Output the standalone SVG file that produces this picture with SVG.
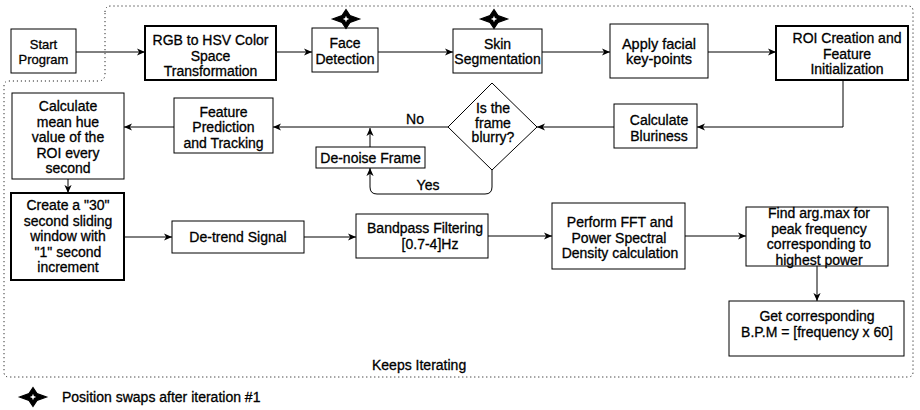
<svg xmlns="http://www.w3.org/2000/svg" width="920" height="410" viewBox="0 0 920 410">
<style>
text{font-family:"Liberation Sans",Arial,sans-serif;font-size:14px;fill:#000;stroke:#000;stroke-width:0.3;text-anchor:middle}
.s13{font-size:13px}
.s145{font-size:14.5px}
.l{text-anchor:start}
.box{fill:#fff;stroke:#000;stroke-width:1}
.thick{stroke-width:2}
.star{fill:#000;stroke:#000;stroke-width:1.2;stroke-linejoin:miter}
.starin{fill:#fff}
.edge{fill:none;stroke:#000;stroke-width:1}
.dot{fill:none;stroke:#000;stroke-width:1;stroke-dasharray:1 3}
</style>
<defs>
<marker id="arr" viewBox="0 0 10 10" refX="9" refY="5" markerWidth="9" markerHeight="9" markerUnits="userSpaceOnUse" orient="auto">
<path d="M0,1 L9,5 L0,9 L2.5,5 Z" fill="#000"/>
</marker>
<g id="starShape">
<path class="star" d="M-13.5,0 L-4,-3.5 L0,-9.5 L4,-3.5 L13.5,0 L4,3.5 L0,9.5 L-4,3.5 Z"/>
<path class="starin" d="M-3.2,0 L-0.9,-0.9 L0,-3.2 L0.9,-0.9 L3.2,0 L0.9,0.9 L0,3.2 L-0.9,0.9 Z"/>
</g>
</defs>
<rect width="920" height="410" fill="#fff"/>

<g id="loop-border">
<path class="dot" d="M105,12 Q105,6 111,6 L908,6 Q913,6 913,11 L913,372 Q913,377 908,377 L9,377 Q4,377 4,372 L4,86 Q4,81 9,81 L98,81 Q105,81 105,74 Z"/>
<text class="l" x="372" y="370">Keeps Iterating</text>
</g>

<g id="connectors">
<path class="edge" marker-end="url(#arr)" d="M76,52 L145,52"/>
<path class="edge" marker-end="url(#arr)" d="M276,52 L312,52"/>
<path class="edge" marker-end="url(#arr)" d="M378,52 L453,52"/>
<path class="edge" marker-end="url(#arr)" d="M542,52 L610,52"/>
<path class="edge" marker-end="url(#arr)" d="M708,52 L776,52"/>
<path class="edge" marker-end="url(#arr)" d="M843,80 L843,127 L697,127"/>
<path class="edge" marker-end="url(#arr)" d="M614,127 L537,127"/>
<path class="edge" marker-end="url(#arr)" d="M448,127 L273,127"/>
<text x="415" y="123.5">No</text>
<path class="edge" marker-end="url(#arr)" d="M370,147 L370,128"/>
<path class="edge" marker-end="url(#arr)" d="M492,170 L492,187 Q492,194 485,194 L377,194 Q370,194 370,187 L370,168"/>
<text x="428" y="190">Yes</text>
<path class="edge" marker-end="url(#arr)" d="M174,127 L124,127"/>
<path class="edge" marker-end="url(#arr)" d="M68,179 L68,193"/>
<path class="edge" marker-end="url(#arr)" d="M124,237 L172,237"/>
<path class="edge" marker-end="url(#arr)" d="M304,237 L356,237"/>
<path class="edge" marker-end="url(#arr)" d="M488,236 L552,236"/>
<path class="edge" marker-end="url(#arr)" d="M685,236 L746,236"/>
<path class="edge" marker-end="url(#arr)" d="M817,266 L817,301"/>
</g>

<g id="start">
<rect class="box" x="11" y="29" width="65" height="44"/>
<text class="s13" x="43.5" y="48.5">Start</text>
<text class="s13" x="43.5" y="64">Program</text>
</g>

<g id="rgb-hsv">
<rect class="box thick" x="145" y="26" width="131" height="54"/>
<text x="210.5" y="45">RGB to HSV Color</text>
<text x="210.5" y="60.5">Space</text>
<text x="210.5" y="76">Transformation</text>
</g>

<g id="face-detection">
<rect class="box" x="312" y="28" width="66" height="44"/>
<text x="345" y="48">Face</text>
<text x="345" y="63.5">Detection</text>
<use href="#starShape" x="346" y="19"/>
</g>

<g id="skin-segmentation">
<rect class="box" x="453" y="29" width="89" height="44"/>
<text x="497.5" y="49">Skin</text>
<text x="497.5" y="64">Segmentation</text>
<use href="#starShape" x="494" y="19"/>
</g>

<g id="facial-keypoints">
<rect class="box" x="610" y="24" width="98" height="54"/>
<text class="s145" x="659" y="49">Apply facial</text>
<text class="s145" x="659" y="64">key-points</text>
</g>

<g id="roi-creation">
<rect class="box thick" x="776" y="26" width="132" height="54"/>
<text x="847" y="43">ROI Creation and</text>
<text x="847" y="58.5">Feature</text>
<text x="847" y="74">Initialization</text>
</g>

<g id="calc-bluriness">
<rect class="box" x="614" y="104" width="83" height="44"/>
<text x="659" y="125">Calculate</text>
<text x="659" y="140.5">Bluriness</text>
</g>

<g id="is-blurry">
<path class="box" d="M492,83 L537,127 L492,170 L448,127 Z"/>
<text x="493" y="113">Is the</text>
<text x="493" y="127.5">frame</text>
<text x="493" y="142">blurry?</text>
</g>

<g id="denoise">
<rect class="box" x="316" y="147" width="109" height="21"/>
<text x="370.5" y="162.5">De-noise Frame</text>
</g>

<g id="feature-tracking">
<rect class="box" x="174" y="98" width="99" height="55"/>
<text x="223.5" y="117">Feature</text>
<text x="223.5" y="132">Prediction</text>
<text x="223.5" y="147.5">and Tracking</text>
</g>

<g id="mean-hue">
<rect class="box" x="12" y="93" width="112" height="86"/>
<text x="68" y="111">Calculate</text>
<text x="68" y="126.5">mean hue</text>
<text x="68" y="142">value of the</text>
<text x="68" y="157.5">ROI every</text>
<text x="68" y="173">second</text>
</g>

<g id="sliding-window">
<rect class="box thick" x="11" y="193" width="113" height="87"/>
<text x="68" y="210">Create a "30"</text>
<text x="68" y="225.5">second sliding</text>
<text x="68" y="241">window with</text>
<text x="68" y="256.5">"1" second</text>
<text x="68" y="272">increment</text>
</g>

<g id="detrend">
<rect class="box" x="172" y="221" width="132" height="32"/>
<text x="238" y="242">De-trend Signal</text>
</g>

<g id="bandpass">
<rect class="box" x="356" y="214" width="132" height="44"/>
<text x="425" y="233">Bandpass Filtering</text>
<text x="430" y="248.5">[0.7-4]Hz</text>
</g>

<g id="fft-psd">
<rect class="box" x="552" y="203" width="133" height="66"/>
<text x="620" y="227">Perform FFT and</text>
<text x="619" y="242.5">Power Spectral</text>
<text x="620" y="258">Density calculation</text>
</g>

<g id="argmax">
<rect class="box" x="746" y="207" width="142" height="59"/>
<text x="819" y="218">Find arg.max for</text>
<text x="819" y="233.5">peak frequency</text>
<text x="819" y="249">corresponding to</text>
<text x="819" y="264.5">highest power</text>
</g>

<g id="bpm">
<rect class="box" x="729" y="301" width="175" height="55"/>
<text x="817" y="321">Get corresponding</text>
<text x="817" y="336.5">B.P.M = [frequency x 60]</text>
</g>

<g id="legend">
<use href="#starShape" x="33" y="397"/>
<text class="l" x="62" y="401.5">Position swaps after iteration #1</text>
</g>
</svg>
